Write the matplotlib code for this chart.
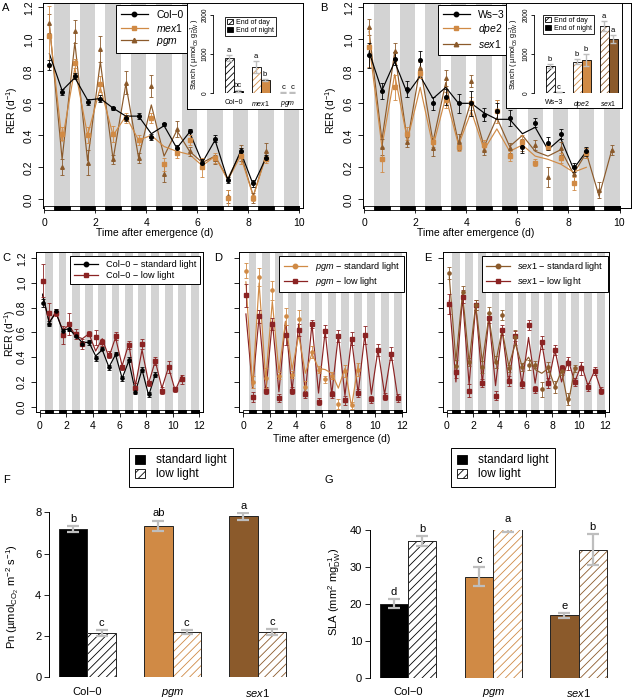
import numpy as np
import matplotlib
matplotlib.use('Agg')
import matplotlib.pyplot as plt
from matplotlib.patches import Rectangle, Patch
from matplotlib.lines import Line2D

plt.rcParams['font.family'] = ['Liberation Sans', 'DejaVu Sans']
plt.rcParams['mathtext.fontset'] = 'custom'
plt.rcParams['mathtext.rm'] = 'Liberation Sans'
plt.rcParams['mathtext.it'] = 'Liberation Sans:italic'
plt.rcParams['mathtext.bf'] = 'Liberation Sans:bold'
plt.rcParams['mathtext.sf'] = 'Liberation Sans'
plt.rcParams['hatch.linewidth'] = 0.6
plt.rcParams['axes.linewidth'] = 0.7

# ---------------- data ----------------
t18 = [0.2, 0.7, 1.2, 1.7, 2.2, 2.7, 3.2, 3.7, 4.2, 4.7, 5.2, 5.7, 6.2, 6.7, 7.2, 7.7, 8.2, 8.7]
t20 = t18 + [9.2, 9.7]
t22 = t20 + [10.2, 10.7]
t24 = t22 + [11.2, 11.7]

# Panel A
col0_fit = [0.91, 0.68, 0.76, 0.62, 0.63, 0.57, 0.52, 0.52, 0.41, 0.46, 0.32, 0.42, 0.23, 0.37, 0.12, 0.30, 0.09, 0.26]
col0_obs = [0.84, 0.67, 0.77, 0.61, 0.63, 0.57, 0.51, 0.52, 0.39, 0.47, 0.32, 0.43, 0.23, 0.38, 0.12, 0.30, 0.10, 0.26]
col0_se = [0.03, 0.02, 0.02, 0.02, 0.02, 0.01, 0.02, 0.02, 0.02, 0.01, 0.02, 0.01, 0.02, 0.02, 0.02, 0.02, 0.02, 0.02]
mex1_fit = [1.08, 0.36, 0.82, 0.40, 0.70, 0.40, 0.52, 0.37, 0.40, 0.33, 0.30, 0.28, 0.21, 0.27, 0.12, 0.27, 0.02, 0.27]
mex1_obs = [1.02, 0.41, 0.85, 0.40, 0.72, 0.41, 0.51, 0.37, 0.51, 0.22, 0.29, 0.37, 0.20, 0.26, 0.01, 0.27, 0.01, 0.25]
mex1_se = [0.19, 0.04, 0.03, 0.05, 0.05, 0.05, 0.03, 0.03, 0.03, 0.04, 0.03, 0.03, 0.06, 0.03, 0.05, 0.05, 0.02, 0.02]
pgm_fit = [1.10, 0.25, 0.98, 0.24, 0.86, 0.25, 0.72, 0.26, 0.59, 0.27, 0.43, 0.30, 0.23, 0.27, 0.13, 0.29, 0.02, 0.28]
pgm_obs = [1.10, 0.20, 1.05, 0.23, 0.94, 0.25, 0.73, 0.26, 0.71, 0.16, 0.44, 0.30, 0.22, 0.25, 0.02, 0.29, 0.01, 0.30]
pgm_se = [0.06, 0.05, 0.07, 0.08, 0.08, 0.03, 0.07, 0.03, 0.07, 0.05, 0.05, 0.03, 0.03, 0.03, 0.04, 0.05, 0.03, 0.05]

# Panel B
ws3_fit = [0.92, 0.68, 0.86, 0.66, 0.77, 0.63, 0.70, 0.60, 0.60, 0.54, 0.50, 0.50, 0.41, 0.45, 0.31, 0.38, 0.19, 0.30]
ws3_obs = [0.90, 0.68, 0.88, 0.69, 0.87, 0.60, 0.64, 0.60, 0.60, 0.53, 0.55, 0.51, 0.33, 0.48, 0.35, 0.41, 0.20, 0.30]
ws3_se = [0.08, 0.05, 0.04, 0.05, 0.06, 0.04, 0.05, 0.06, 0.08, 0.04, 0.05, 0.05, 0.04, 0.03, 0.04, 0.03, 0.03, 0.03]
dpe2_fit = [0.97, 0.33, 0.78, 0.37, 0.70, 0.33, 0.64, 0.34, 0.55, 0.31, 0.44, 0.30, 0.34, 0.27, 0.25, 0.22, 0.17, 0.20]
dpe2_obs = [0.95, 0.25, 0.70, 0.41, 0.79, 0.36, 0.62, 0.33, 0.60, 0.34, 0.55, 0.27, 0.36, 0.23, 0.33, 0.26, 0.10, 0.29]
dpe2_se = [0.12, 0.08, 0.08, 0.04, 0.03, 0.03, 0.05, 0.03, 0.04, 0.03, 0.07, 0.03, 0.04, 0.02, 0.02, 0.03, 0.04, 0.03]
sex1_fit = [1.05, 0.37, 0.92, 0.36, 0.83, 0.36, 0.73, 0.35, 0.62, 0.33, 0.51, 0.33, 0.40, 0.30, 0.27, 0.31, 0.16, 0.29, 0.02, 0.31]
sex1_obs = [1.08, 0.33, 0.93, 0.36, 0.82, 0.32, 0.76, 0.36, 0.74, 0.31, 0.56, 0.32, 0.34, 0.34, 0.14, 0.32, 0.16, 0.29, 0.06, 0.31]
sex1_se = [0.05, 0.05, 0.05, 0.03, 0.04, 0.05, 0.05, 0.05, 0.04, 0.03, 0.06, 0.03, 0.04, 0.03, 0.06, 0.04, 0.05, 0.03, 0.05, 0.03]

# Insets (starch, umol C6 / g DW)
starch_A_cats = ['Col−0', r'$\mathit{mex}$1', r'$\mathit{pgm}$']
starch_A_eod = [900, 660, 12]
starch_A_eod_se = [70, 150, 5]
starch_A_eon = [50, 330, 12]
starch_A_eon_se = [15, 30, 5]
starch_A_eod_let = ['a', 'a', 'c']
starch_A_eon_let = ['bc', 'b', 'c']
starch_B_cats = ['Ws−3', r'$\mathit{dpe2}$', r'$\mathit{sex}$1']
starch_B_eod = [700, 800, 1720]
starch_B_eod_se = [50, 60, 120]
starch_B_eon = [20, 840, 1380]
starch_B_eon_se = [5, 160, 110]
starch_B_eod_let = ['b', 'b', 'a']
starch_B_eon_let = ['c', 'b', 'a']

# Panel C (Col-0 low light)
col0_low_fit = [0.90, 0.68, 0.77, 0.62, 0.66, 0.57, 0.55, 0.59, 0.45, 0.55, 0.40, 0.56, 0.33, 0.51, 0.17, 0.46, 0.19, 0.37, 0.15, 0.32, 0.13, 0.25]
col0_low_obs = [1.02, 0.76, 0.76, 0.58, 0.67, 0.59, 0.51, 0.59, 0.56, 0.52, 0.42, 0.57, 0.32, 0.50, 0.15, 0.51, 0.19, 0.37, 0.13, 0.32, 0.14, 0.22]
col0_low_se = [0.13, 0.08, 0.03, 0.07, 0.09, 0.04, 0.04, 0.02, 0.06, 0.03, 0.03, 0.03, 0.02, 0.03, 0.04, 0.04, 0.02, 0.03, 0.03, 0.05, 0.02, 0.04]

# Panel D (pgm)
pgm_std_fit = [1.01, 0.16, 1.00, 0.22, 0.85, 0.28, 0.69, 0.30, 0.58, 0.27, 0.43, 0.31, 0.30, 0.27, 0.15, 0.31, 0.00, 0.34]
pgm_low_fit = [0.75, 0.15, 0.73, 0.11, 0.69, 0.12, 0.69, 0.13, 0.67, 0.11, 0.67, 0.11, 0.61, 0.10, 0.58, 0.09, 0.55, 0.11, 0.58, 0.10, 0.46, 0.10, 0.43, 0.07]
pgm_low_obs = [0.90, 0.08, 0.73, 0.13, 0.67, 0.07, 0.58, 0.13, 0.62, 0.10, 0.67, 0.04, 0.61, 0.10, 0.57, 0.05, 0.55, 0.11, 0.58, 0.06, 0.46, 0.08, 0.43, 0.07]
pgm_low_se = [0.09, 0.04, 0.05, 0.03, 0.05, 0.03, 0.08, 0.03, 0.05, 0.03, 0.03, 0.03, 0.05, 0.03, 0.05, 0.04, 0.05, 0.03, 0.07, 0.03, 0.05, 0.03, 0.05, 0.03]

# Panel E (sex1)
sex1_low_fit = [0.86, 0.20, 0.88, 0.18, 0.82, 0.19, 0.72, 0.17, 0.62, 0.19, 0.57, 0.18, 0.56, 0.19, 0.52, 0.19, 0.46, 0.20, 0.38, 0.20, 0.34, 0.17, 0.29, 0.13]
sex1_low_obs = [0.83, 0.28, 0.89, 0.13, 0.82, 0.19, 0.72, 0.09, 0.62, 0.21, 0.57, 0.18, 0.66, 0.14, 0.52, 0.19, 0.46, 0.31, 0.35, 0.20, 0.31, 0.16, 0.29, 0.13]
sex1_low_se = [0.08, 0.05, 0.05, 0.05, 0.04, 0.03, 0.04, 0.04, 0.04, 0.04, 0.04, 0.03, 0.04, 0.03, 0.05, 0.04, 0.04, 0.03, 0.05, 0.03, 0.05, 0.03, 0.03, 0.03]

# Panels F, G
bar_cats = ['Col−0', r'$\mathit{pgm}$', r'$\mathit{sex}$1']
pn_std = [7.2, 7.35, 7.8]
pn_std_se = [0.15, 0.25, 0.15]
pn_low = [2.15, 2.2, 2.2]
pn_low_se = [0.15, 0.1, 0.15]
pn_std_let = ['b', 'ab', 'a']
pn_low_let = ['c', 'c', 'c']
sla_std = [20.0, 27.4, 16.9]
sla_std_se = [1.2, 2.5, 0.6]
sla_low = [37.0, 40.3, 34.7]
sla_low_se = [1.3, 0.8, 4.2]
sla_std_let = ['d', 'c', 'e']
sla_low_let = ['b', 'a', 'b']

RER_TICKS = [0.0, 0.2, 0.4, 0.6, 0.8, 1.0, 1.2]

# ---------------- style ----------------
BLACK = '#000000'
ORANGE = '#D08A45'
BROWN = '#8B5A2B'
DARKRED = '#8B2323'
GREY = '#D3D3D3'
ERRGREY = '#BEBEBE'
NIGHT = 0.4

W, H = 638, 698
fig = plt.figure(figsize=(W / 100, H / 100), dpi=100)


def px_axes(l, t, r, b):
    return fig.add_axes([l / W, 1 - b / H, (r - l) / W, (b - t) / H])


def ftext(x, y, s, **kw):
    kw.setdefault('ha', 'center')
    kw.setdefault('va', 'center')
    fig.text(x / W, 1 - y / H, s, **kw)


def rer_axes(l, t, r, b, xlim, ylim, ndays, xticks, ylabels=True, strip_px=2.2):
    ax = px_axes(l, t, r, b)
    ax.set_xlim(*xlim)
    ax.set_ylim(*ylim)
    for d in range(ndays):
        ax.axvspan(d + NIGHT, d + 1, color=GREY, lw=0, zorder=0)
    tr = ax.get_xaxis_transform()
    h = strip_px / (b - t)
    ax.add_patch(Rectangle((0, -h), ndays, 2 * h, transform=tr, fc='white', ec='black',
                           lw=0.6, clip_on=False, zorder=6))
    for d in range(ndays):
        ax.add_patch(Rectangle((d + NIGHT, -h), 1 - NIGHT, 2 * h, transform=tr, fc='black',
                               ec='black', lw=0.6, clip_on=False, zorder=7))
    ax.set_xticks(xticks)
    ax.set_yticks(RER_TICKS)
    if ylabels:
        ax.set_yticklabels([f'{v:.1f}' for v in RER_TICKS], rotation=90, va='center')
    else:
        ax.set_yticklabels([])
    ax.tick_params(axis='both', direction='out', length=3.5, width=0.6, labelsize=7.5)
    ax.tick_params(axis='x', pad=3.5)
    ax.tick_params(axis='y', pad=3)
    return ax


def series(ax, tf, fit, to, obs, se, color, marker, ms=2.6):
    ax.plot(tf, fit, color=color, lw=0.85, zorder=3)
    ax.errorbar(to, obs, yerr=se, fmt=marker, color=color, ms=ms, capsize=1.6,
                elinewidth=0.6, capthick=0.6, zorder=4)


def line_legend(ax, items, anchor, loc, fs):
    handles = [Line2D([0], [0], color=c, marker=m, ms=3.2, lw=0.9) for c, m, _ in items]
    labels = [s for _, _, s in items]
    leg = ax.legend(handles, labels, loc=loc, bbox_to_anchor=(anchor[0] / W, 1 - anchor[1] / H),
                    bbox_transform=fig.transFigure, fontsize=fs, fancybox=False,
                    edgecolor='black', framealpha=1, handlelength=2.6, borderpad=0.45,
                    labelspacing=0.2, handletextpad=0.8, borderaxespad=0)
    leg.get_frame().set_linewidth(0.7)
    leg.set_zorder(10)


def starch_inset(frame, axr, eod, eod_se, eon, eon_se, l_eod, l_eon, colors, cats, leg_xy, ylab_x):
    fr = px_axes(*frame)
    fr.set_xticks([])
    fr.set_yticks([])
    fr.set_facecolor('white')
    ia = px_axes(*axr)
    ia.patch.set_alpha(0)
    ia.set_ylim(0, 2000)
    ia.set_xlim(-0.76, 2.46)
    w = 1 / 3
    for i in range(3):
        ia.bar(i - w / 2, eod[i], width=w, facecolor='white', edgecolor=colors[i],
               hatch='/////', lw=0, zorder=2)
        ia.bar(i - w / 2, eod[i], width=w, fill=False, edgecolor='black', lw=0.6, zorder=3)
        ia.bar(i + w / 2, eon[i], width=w, color=colors[i], edgecolor='black', lw=0.6, zorder=3)
    xs_d = [i - w / 2 for i in range(3)]
    xs_n = [i + w / 2 for i in range(3)]
    ia.errorbar(xs_d, eod, yerr=eod_se, fmt='none', ecolor=ERRGREY, elinewidth=1.0,
                capsize=2, capthick=1.0, zorder=4)
    ia.errorbar(xs_n, eon, yerr=eon_se, fmt='none', ecolor=ERRGREY, elinewidth=1.0,
                capsize=2, capthick=1.0, zorder=4)
    for x, v, e, s in zip(xs_d + xs_n, eod + eon, eod_se + eon_se, l_eod + l_eon):
        ia.annotate(s, (x, v + e), xytext=(0, 0.8), textcoords='offset points',
                    ha='center', va='bottom', fontsize=5.5, annotation_clip=False)
    for sp in ['top', 'right', 'bottom']:
        ia.spines[sp].set_visible(False)
    ia.spines['left'].set_bounds(0, 2000)
    ia.spines['left'].set_linewidth(0.6)
    ia.set_yticks([0, 1000, 2000])
    ia.set_yticklabels(['0', '1000', '2000'], rotation=90, va='center')
    ia.tick_params(axis='y', length=2, width=0.6, labelsize=4.8, pad=1)
    ia.set_xticks([0, 1, 2])
    ia.set_xticklabels(cats)
    ia.tick_params(axis='x', length=0, labelsize=5, pad=4)
    handles = [Patch(facecolor='white', edgecolor='black', hatch='/////', lw=0.6),
               Patch(facecolor='black', edgecolor='black', lw=0.6)]
    leg = ia.legend(handles, ['End of day', 'End of night'], loc='upper left',
                    bbox_to_anchor=(leg_xy[0] / W, 1 - leg_xy[1] / H),
                    bbox_transform=fig.transFigure, fontsize=5, fancybox=False,
                    edgecolor='black', framealpha=1, handlelength=0.8, handleheight=0.8,
                    borderpad=0.3, labelspacing=0.1, handletextpad=0.5, borderaxespad=0)
    leg.get_frame().set_linewidth(0.6)
    ftext(ylab_x, 54, r'Starch ( µmol$_{\mathrm{C6}}$ g$_{\mathrm{DW}}^{-1}$ )',
          rotation=90, fontsize=5.3)


def bar_panel(l, t, r, b, ytop, yticks, std, std_se, low, low_se, l_std, l_low, colors, leg_xy):
    ax = px_axes(l, t, r, b)
    ax.set_ylim(0, ytop)
    ax.set_xlim(-1.35, 7.35)
    centers = [0, 3, 6]
    xs_s = [c - 0.5 for c in centers]
    xs_l = [c + 0.5 for c in centers]
    for i in range(3):
        ax.bar(xs_s[i], std[i], width=1, color=colors[i], edgecolor='#222222', lw=0.7, zorder=2)
        ax.bar(xs_l[i], low[i], width=1, facecolor='white', edgecolor=colors[i],
               hatch='////', lw=0, zorder=2)
        ax.bar(xs_l[i], low[i], width=1, fill=False, edgecolor='#222222', lw=0.7, zorder=3)
    ax.errorbar(xs_s, std, yerr=std_se, fmt='none', ecolor=ERRGREY, elinewidth=1.6,
                capsize=4.5, capthick=1.6, zorder=4)
    ax.errorbar(xs_l, low, yerr=low_se, fmt='none', ecolor=ERRGREY, elinewidth=1.6,
                capsize=4.5, capthick=1.6, zorder=4)
    for x, v, e, s in zip(xs_s + xs_l, std + low, std_se + low_se, l_std + l_low):
        ax.annotate(s, (x, v + e), xytext=(0, 1.5), textcoords='offset points',
                    ha='center', va='bottom', fontsize=8, annotation_clip=False)
    for sp in ['top', 'right', 'bottom']:
        ax.spines[sp].set_visible(False)
    ax.spines['left'].set_bounds(0, ytop)
    ax.set_yticks(yticks)
    ax.tick_params(axis='y', length=3.5, width=0.6, labelsize=8, pad=2)
    ax.set_xticks(centers)
    ax.set_xticklabels(bar_cats)
    ax.tick_params(axis='x', length=0, labelsize=8, pad=7)
    handles = [Patch(facecolor='black', edgecolor='black', lw=0.6),
               Patch(facecolor='white', edgecolor='black', hatch='////', lw=0.6)]
    leg = ax.legend(handles, ['standard light', 'low light'], loc='upper left',
                    bbox_to_anchor=(leg_xy[0] / W, 1 - leg_xy[1] / H),
                    bbox_transform=fig.transFigure, fontsize=8.5, fancybox=False,
                    edgecolor='black', framealpha=1, handlelength=0.8, handleheight=0.8,
                    borderpad=0.55, labelspacing=0.15, handletextpad=0.9, borderaxespad=0)
    leg.get_frame().set_linewidth(0.7)
    return ax


# ---------------- Panel A ----------------
axA = rer_axes(43, 3.3, 303, 208.3, (-0.05, 10.15), (-0.056, 1.225), 10, [0, 2, 4, 6, 8, 10])
series(axA, t18, pgm_fit, t18, pgm_obs, pgm_se, BROWN, '^')
series(axA, t18, mex1_fit, t18, mex1_obs, mex1_se, ORANGE, 's')
series(axA, t18, col0_fit, t18, col0_obs, col0_se, BLACK, 'o')
line_legend(axA, [(BLACK, 'o', 'Col−0'), (ORANGE, 's', r'$\mathit{mex}$1'),
                  (BROWN, '^', r'$\mathit{pgm}$')], (116, 5), 'upper left', 7.5)
starch_inset((187, 3.3, 303, 109), (213, 15, 300, 93), starch_A_eod, starch_A_eod_se,
             starch_A_eon, starch_A_eon_se, starch_A_eod_let, starch_A_eon_let,
             [BLACK, ORANGE, BROWN], starch_A_cats, (225, 17), 195)

# ---------------- Panel B ----------------
axB = rer_axes(363, 3.3, 631, 208.3, (-0.04, 10.45), (-0.056, 1.225), 10, [0, 2, 4, 6, 8, 10])
series(axB, t20, sex1_fit, t20, sex1_obs, sex1_se, BROWN, '^')
series(axB, t18, dpe2_fit, t18, dpe2_obs, dpe2_se, ORANGE, 's')
series(axB, t18, ws3_fit, t18, ws3_obs, ws3_se, BLACK, 'o')
line_legend(axB, [(BLACK, 'o', 'Ws−3'), (ORANGE, 's', r'$\mathit{dpe2}$'),
                  (BROWN, '^', r'$\mathit{sex}$1')], (438, 5), 'upper left', 7.5)
starch_inset((506, 3.3, 622, 108), (534, 15, 621, 93), starch_B_eod, starch_B_eod_se,
             starch_B_eon, starch_B_eon_se, starch_B_eod_let, starch_B_eon_let,
             [BLACK, ORANGE, BROWN], starch_B_cats, (543, 15), 514)

# ---------------- Panels C, D, E ----------------
xt12 = [0, 2, 4, 6, 8, 10, 12]
ylimC = (-0.039, 1.251)
axC = rer_axes(36, 252, 203, 411.5, (-0.3, 12.3), ylimC, 12, xt12, strip_px=1.8)
series(axC, t22, col0_low_fit, t22, col0_low_obs, col0_low_se, DARKRED, 's', ms=2.3)
series(axC, t18, col0_fit, t18, col0_obs, col0_se, BLACK, 'o', ms=2.3)
line_legend(axC, [(BLACK, 'o', 'Col−0 − standard light'), (DARKRED, 's', 'Col−0 − low light')],
            (200, 256), 'upper right', 6.6)

axD = rer_axes(239.3, 252, 405.7, 411.5, (-0.3, 12.3), ylimC, 12, xt12, ylabels=False, strip_px=1.8)
series(axD, t24, pgm_low_fit, t24, pgm_low_obs, pgm_low_se, DARKRED, 's', ms=2.3)
series(axD, t18, pgm_std_fit, t18, pgm_obs, pgm_se, ORANGE, 'o', ms=2.3)
line_legend(axD, [(ORANGE, 'o', r'$\mathit{pgm}$ − standard light'),
                  (DARKRED, 's', r'$\mathit{pgm}$ − low light')], (404, 256), 'upper right', 6.6)

axE = rer_axes(442.7, 252, 609.1, 411.5, (-0.3, 12.3), ylimC, 12, xt12, ylabels=False, strip_px=1.8)
series(axE, t24, sex1_low_fit, t24, sex1_low_obs, sex1_low_se, DARKRED, 's', ms=2.3)
series(axE, t20, sex1_fit, t20, sex1_obs, sex1_se, BROWN, 'o', ms=2.3)
line_legend(axE, [(BROWN, 'o', r'$\mathit{sex}$1 − standard light'),
                  (DARKRED, 's', r'$\mathit{sex}$1 − low light')], (608, 256), 'upper right', 6.6)

# ---------------- Panels F, G ----------------
bar_panel(49, 512.3, 296, 677.3, 8, [0, 2, 4, 6, 8], pn_std, pn_std_se, pn_low, pn_low_se,
          pn_std_let, pn_low_let, [BLACK, ORANGE, BROWN], (129, 448))
bar_panel(369.7, 530, 617, 677.7, 40, [0, 10, 20, 30, 40], sla_std, sla_std_se, sla_low, sla_low_se,
          sla_std_let, sla_low_let, [BLACK, ORANGE, BROWN], (451, 448))

# ---------------- labels ----------------
fs_lab = 7.5
ftext(12, 110, 'RER (d$^{-1}$)', rotation=90, fontsize=fs_lab)
ftext(155, 233, 'Time after emergence (d)', fontsize=fs_lab)
ftext(331, 110, 'RER (d$^{-1}$)', rotation=90, fontsize=fs_lab)
ftext(476, 233, 'Time after emergence (d)', fontsize=fs_lab)
ftext(10, 333, 'RER (d$^{-1}$)', rotation=90, fontsize=fs_lab)
ftext(332, 439, 'Time after emergence (d)', fontsize=fs_lab)
ftext(13, 597, r'Pn (µmol$_{\mathrm{CO_2}}$ m$^{-2}$ s$^{-1}$)', rotation=90, fontsize=8)
ftext(335, 592, r'SLA (mm$^{2}$ mg$_{\mathrm{DW}}^{-1}$)', rotation=90, fontsize=8)

for s, x, y in [('A', 6, 8), ('B', 324, 8), ('C', 6, 258), ('D', 218, 258), ('E', 428, 258),
                ('F', 6, 480), ('G', 329, 480)]:
    ftext(x, y, s, fontsize=8)

fig.savefig('out.png', dpi=100)
